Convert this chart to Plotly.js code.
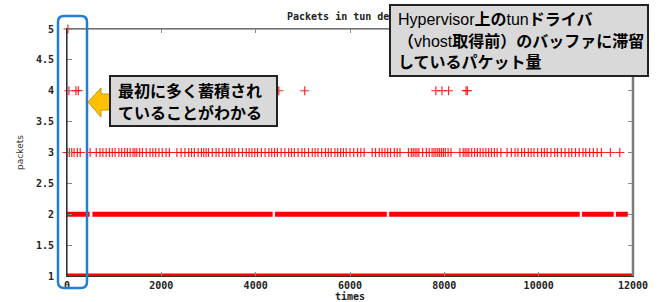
<!DOCTYPE html>
<html>
<head>
<meta charset="utf-8">
<script src="https://cdn.plot.ly/plotly-3.0.1.min.js"></script>
<style>
  html, body { margin: 0; padding: 0; background: #fff; }
  #chart { width: 664px; height: 302px; }
</style>
</head>
<body>
<div id="chart"></div>
<script>
// ---------- data ----------
const titleText = "Packets in tun device";
const xTitle = "times";
const yTitle = "packets";

const xTickVals = [0, 2000, 4000, 6000, 8000, 10000, 12000];
const xTickText = ["0", "2000", "4000", "6000", "8000", "10000", "12000"];
const yTickVals = [1, 1.5, 2, 2.5, 3, 3.5, 4, 4.5, 5];
const yTickText = ["1", "1.5", "2", "2.5", "3", "3.5", "4", "4.5", "5"];

// sparse samples (plotted as "+" points)
const level5Times = [20];
const level4Times = [40, 190, 240, 4490, 5040, 7820, 7950, 8090, 8460, 8490];
const level3Times = [
  0, 50, 100, 150, 220, 280,
  490, 620, 700, 760, 830, 900, 960, 1020, 1100, 1160, 1220, 1280, 1340, 1400, 1440, 1480,
  1540, 1600, 1680, 1760, 1820, 1880, 1950, 2020, 2100, 2170,
  2330, 2420, 2500, 2580, 2640, 2700, 2780, 2850, 2900, 2950, 3000, 3080, 3160, 3220, 3300,
  3380, 3440, 3500, 3560, 3640, 3720, 3800, 3860, 3920, 3980, 4040, 4120, 4200, 4280, 4340,
  4400, 4460, 4540, 4620, 4700, 4760, 4820, 4900, 4980, 5040, 5120, 5200, 5260, 5320, 5400,
  5480, 5540, 5600, 5680, 5740, 5800, 5860, 5920, 6000, 6080, 6160, 6230, 6300,
  6470, 6540, 6620, 6680, 6740, 6800, 6860, 6940, 7000, 7060,
  7240, 7300, 7340, 7380, 7420, 7460, 7540, 7620, 7680, 7740, 7780, 7820, 7860, 7900, 7940,
  7980, 8020, 8080, 8140,
  8330, 8400, 8440, 8480, 8520, 8580, 8640, 8700, 8760, 8820, 8880, 8940, 9000, 9060, 9120, 9200,
  9330, 9420, 9500, 9560, 9640, 9700, 9780, 9840, 9900, 9980, 10060, 10120, 10180, 10260,
  10340, 10400, 10480, 10560, 10640, 10700, 10780, 10860, 10940, 11000, 11080, 11160, 11240, 11330,
  11520, 11720
];

// dense runs (continuous bands of points): [start, end]
const level2Runs = [[0, 480], [540, 4360], [4410, 6780], [6830, 10870], [10920, 11590], [11640, 11890]];
const level1Runs = [[0, 12000]];

// annotation texts
const noteLeft = ["最初に多く蓄積され", "ていることがわかる"];
const noteRight = [
  "Hypervisor<b>上の</b>tun<b>ドライバ</b>",
  "<b>（</b>vhost<b>取得前）のバッファに滞留</b>",
  "<b>しているパケット量</b>"
];

// ---------- build ----------
const RED = "#ff0000";
const W = 664, H = 302;
const M = { l: 67, r: 31, t: 29, b: 26 };
const PW = W - M.l - M.r, PH = H - M.t - M.b;
const fx = px => (px - M.l) / PW;
const fy = py => (H - M.b - py) / PH;
const P = (px, py) => fx(px).toFixed(5) + "," + fy(py).toFixed(5);

function runsTrace(runs, level) {
  const x = [], y = [];
  runs.forEach(r => { x.push(r[0], r[1], null); y.push(level, level, null); });
  return {
    type: "scatter", mode: "lines", x: x, y: y,
    line: { color: RED, width: 5 }, cliponaxis: false, hoverinfo: "skip", showlegend: false
  };
}
function pointsTrace(times, level) {
  return {
    type: "scatter", mode: "markers", x: times, y: times.map(() => level),
    marker: { symbol: "cross-thin", size: 6.5, color: RED, line: { color: "rgba(255,0,0,0.85)", width: 1.2 } },
    cliponaxis: false, hoverinfo: "skip", showlegend: false
  };
}

const data = [
  runsTrace(level1Runs, 1),
  runsTrace(level2Runs, 2),
  pointsTrace(level3Times, 3),
  pointsTrace(level4Times, 4),
  pointsTrace(level5Times, 5)
];

function roundRect(x0, y0, x1, y1, r) {
  return `M ${P(x0 + r, y0)} L ${P(x1 - r, y0)} Q ${P(x1, y0)} ${P(x1, y0 + r)} ` +
    `L ${P(x1, y1 - r)} Q ${P(x1, y1)} ${P(x1 - r, y1)} L ${P(x0 + r, y1)} ` +
    `Q ${P(x0, y1)} ${P(x0, y1 - r)} L ${P(x0, y0 + r)} Q ${P(x0, y0)} ${P(x0 + r, y0)} Z`;
}
const arrowPath = `M ${P(88, 102)} L ${P(101, 88)} L ${P(101, 94)} L ${P(114, 94)} L ${P(114, 110)} ` +
  `L ${P(101, 110)} L ${P(101, 117)} Z`;

const shapes = [
  // borders
  { type: "line", xref: "paper", yref: "paper", x0: 0, x1: 1, y0: 1, y1: 1, line: { color: "#8a8a8a", width: 1.5 } },
  { type: "line", xref: "paper", yref: "paper", x0: 1, x1: 1, y0: 0, y1: 1, line: { color: "#7a7a7a", width: 2.5 } },
  { type: "line", xref: "paper", yref: "paper", x0: 0, x1: 0, y0: 0, y1: 1, line: { color: "#333", width: 1.2 } },
  // blue highlight
  { type: "path", xref: "paper", yref: "paper", path: roundRect(58, 16, 87, 288, 6),
    line: { color: "#1f7fd4", width: 2.5 }, fillcolor: "rgba(0,0,0,0)" },
  // yellow arrow
  { type: "path", xref: "paper", yref: "paper", path: arrowPath,
    line: { color: "#c89400", width: 1 }, fillcolor: "#ffc000" },
  // left note box
  { type: "rect", xref: "paper", yref: "paper", x0: fx(110), x1: fx(277), y0: fy(126), y1: fy(76),
    line: { color: "#222", width: 2 }, fillcolor: "#d9d9d9" }
];

const monoBold = { family: "DejaVu Sans Mono, monospace", size: 10, color: "#222", weight: "bold" };
const noteFont = { family: "Liberation Sans, Noto Sans CJK JP, sans-serif", size: 16, color: "#000" };
const annotations = [];
// chart title (drawn first so the right note box covers it, as in the picture)
annotations.push({
  xref: "paper", yref: "paper", x: fx(350), y: fy(16), xanchor: "center", yanchor: "middle",
  text: titleText, showarrow: false, font: monoBold
});
// right note box (annotation so it sits over the title)
annotations.push({
  xref: "paper", yref: "paper", x: fx(389), y: fy(4), xanchor: "left", yanchor: "top",
  text: " ", showarrow: false, width: 256, height: 69, borderpad: 0, borderwidth: 2,
  bordercolor: "#222", bgcolor: "#d9d9d9", font: noteFont
});
noteLeft.forEach((t, i) => annotations.push({
  xref: "paper", yref: "paper", x: fx(116), y: fy(91 + i * 22), xanchor: "left", yanchor: "middle",
  text: "<b>" + t + "</b>", showarrow: false, font: noteFont
}));
noteRight.forEach((t, i) => annotations.push({
  xref: "paper", yref: "paper", x: fx(396), y: fy(20 + i * 21), xanchor: "left", yanchor: "middle",
  text: t, showarrow: false, font: noteFont
}));

const tickFont = { family: "DejaVu Sans Mono, monospace", size: 10, color: "#222", weight: "bold" };

const layout = {
  width: W, height: H,
  margin: M,
  paper_bgcolor: "#fff", plot_bgcolor: "#fff",
  xaxis: {
    range: [0, 12000], tickvals: xTickVals, ticktext: xTickText,
    showgrid: false, zeroline: false, showline: true, linecolor: "#333", linewidth: 1,
    mirror: "ticks", ticks: "inside", ticklen: 4, tickcolor: "#888", tickwidth: 1,
    tickfont: tickFont, ticklabelstandoff: 0, layer: "above traces",
    title: { text: xTitle, standoff: 0, font: monoBold }
  },
  yaxis: {
    range: [1, 5], tickvals: yTickVals, ticktext: yTickText,
    showgrid: false, zeroline: false, showline: true, linecolor: "#333", linewidth: 1,
    mirror: "ticks", ticks: "inside", ticklen: 5, tickcolor: "#888", tickwidth: 1,
    tickfont: tickFont, ticklabelstandoff: 10, layer: "above traces",
    title: { text: yTitle, standoff: 10,
      font: { family: "DejaVu Sans, sans-serif", size: 9, color: "#333" } }
  },
  shapes: shapes,
  annotations: annotations,
  showlegend: false
};

Plotly.newPlot("chart", data, layout, { staticPlot: true, displayModeBar: false });
</script>
</body>
</html>
